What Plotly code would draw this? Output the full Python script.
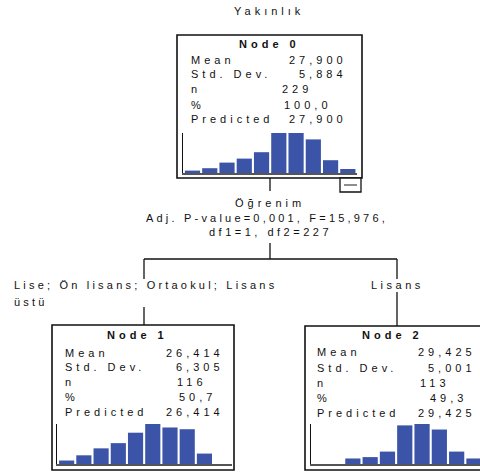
import plotly.graph_objects as go

# ---------------- data ----------------
title_text = "Yakınlık"
node_names = ["Node 0", "Node 1", "Node 2"]
means = [27.900, 26.414, 29.425]
std_devs = [5.884, 6.305, 5.001]
n_vals = [229, 116, 113]
pct_vals = [100.0, 50.7, 49.3]
predicted = [27.900, 26.414, 29.425]
row_labels = ["Mean", "Std. Dev.", "n", "%", "Predicted"]

hist0 = [3, 6, 13, 18, 26, 50, 50, 42, 16, 5]
hist1 = [2, 5, 9, 12, 18, 23, 21, 20, 6, 0]
hist2 = [0, 0, 4, 5, 9, 28, 29, 25, 9, 4]
bins = list(range(10))

split_var = "Öğrenim"
split_stats = "Adj. P-value=0,001, F=15,976,"
split_df = "df1=1, df2=227"
branch_left = ["Lise; Ön lisans; Ortaokul; Lisans", "üstü"]
branch_right = "Lisans"

W, H = 480, 472
BAR = "#3b54a8"
FONT = "Liberation Sans"


def tr(v, d):
    return f"{v:.{d}f}".replace(".", ",")


def sp(t, ls=4):
    return f'<span style="letter-spacing:{ls}px">{t}</span>'


fig = go.Figure()

shapes = []
ann = []


def line(x0, y0, x1, y1, w=1.3, c="#111"):
    shapes.append(dict(type="line", xref="x", yref="y", x0=x0, y0=y0, x1=x1, y1=y1,
                       line=dict(color=c, width=w), layer="above"))


def text(x, y, t, anchor="left", size=11, ls=4):
    ann.append(dict(xref="x", yref="y", x=x, y=y, text=sp(t, ls), showarrow=False,
                    xanchor=anchor, yanchor="middle",
                    font=dict(family=FONT, size=size, color="#111")))


# node geometry (pixel space)
nodes = [
    dict(box=(177, 35, 362, 178), hc=269, hy=44, rows=[60, 74, 89, 105, 119],
         lx=189, vr=349, nl=280, pl=282,
         hx=(183, 357), hy2=(173, 133), rng=(-0.55, 9.53), data=hist0),
    dict(box=(52, 325, 234, 470), hc=137, hy=335, rows=[353, 367, 382, 397, 412],
         lx=63, vr=226, nl=175, pl=177,
         hx=(57, 232), hy2=(464, 424), rng=(-0.56, 9.6), data=hist1),
    dict(box=(305, 326, 495, 470), hc=392, hy=335, rows=[352, 368, 383, 398, 413],
         lx=315, vr=478, nl=418, pl=428,
         hx=(311, 480), hy2=(464, 424), rng=(-0.42, 9.35), data=hist2),
]

for i, nd in enumerate(nodes):
    x0, y0, x1, y1 = nd["box"]
    shapes.append(dict(type="rect", xref="x", yref="y", x0=x0, y0=y0, x1=x1, y1=y1,
                       line=dict(color="#111", width=1.6), fillcolor="rgba(0,0,0,0)",
                       layer="above"))
    text(nd["hc"], nd["hy"], f"<b>{node_names[i]}</b>", anchor="center")
    for r, lab in enumerate(row_labels):
        text(nd["lx"], nd["rows"][r], lab)
    text(nd["vr"], nd["rows"][0], tr(means[i], 3), anchor="right")
    text(nd["vr"], nd["rows"][1], tr(std_devs[i], 3), anchor="right")
    text(nd["nl"], nd["rows"][2], str(n_vals[i]))
    text(nd["pl"], nd["rows"][3], tr(pct_vals[i], 1))
    text(nd["vr"], nd["rows"][4], tr(predicted[i], 3), anchor="right")

    k = i + 2
    fig.add_trace(go.Bar(x=bins, y=nd["data"], width=0.88, marker=dict(color=BAR, line=dict(width=0)),
                         xaxis=f"x{k}", yaxis=f"y{k}", showlegend=False, hoverinfo="skip"))
    fig.update_layout({
        f"xaxis{k}": dict(domain=[nd["hx"][0] / W, nd["hx"][1] / W], anchor=f"y{k}",
                          range=list(nd["rng"]), showline=True, linecolor="#555", linewidth=2,
                          showticklabels=False, showgrid=False, zeroline=False, ticks="",
                          fixedrange=True),
        f"yaxis{k}": dict(domain=[1 - nd["hy2"][0] / H, 1 - nd["hy2"][1] / H], anchor=f"x{k}",
                          range=[0, max(nd["data"])], showline=True, linecolor="#111", linewidth=1.2,
                          showticklabels=False, showgrid=False, zeroline=False, ticks="",
                          fixedrange=True),
    })

# collapse icon of node 0
shapes.append(dict(type="rect", xref="x", yref="y", x0=340, y0=178, x1=361, y1=192,
                   line=dict(color="#111", width=1.3), fillcolor="white", layer="above"))
line(344, 185, 357, 185, w=1.2, c="#444")

# title
text(269, 11, title_text, anchor="center")

# split text
text(270, 203, split_var, anchor="center")
text(267, 218, split_stats, anchor="center", ls=3.2)
text(270, 232, split_df, anchor="center", ls=3.5)

# connectors
line(270, 178, 270, 191)
line(270, 243, 270, 259)
line(144, 259, 397, 259)
line(144, 259, 144, 279)
line(144, 307, 144, 325)
line(397, 259, 397, 279)
line(397, 292, 397, 326)

# branch labels
text(12, 285, branch_left[0], ls=3.2)
text(12, 302, branch_left[1], ls=3.2)
text(397, 285, branch_right, anchor="center", ls=3.5)

fig.update_layout(
    width=W, height=H, margin=dict(l=0, r=0, t=0, b=0),
    paper_bgcolor="white", plot_bgcolor="white",
    xaxis=dict(domain=[0, 1], range=[0, W], visible=False, fixedrange=True),
    yaxis=dict(domain=[0, 1], range=[H, 0], visible=False, fixedrange=True),
    shapes=shapes, annotations=ann, showlegend=False,
)

fig.write_html("out.html", config={"displayModeBar": False},
               post_script="document.body.style.margin='0';document.body.style.overflow='hidden';")
